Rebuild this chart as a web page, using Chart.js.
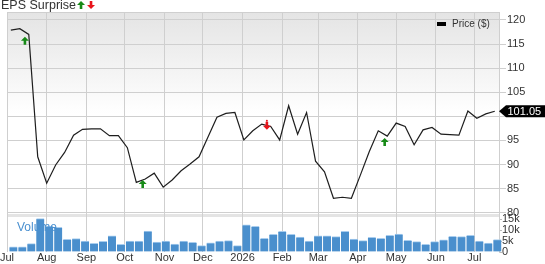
<!DOCTYPE html>
<html>
<head>
<meta charset="utf-8">
<script src="https://cdn.jsdelivr.net/npm/chart.js@4.4.1/dist/chart.umd.min.js"></script>
<style>
  html, body { margin: 0; padding: 0; background: #fff; }
  #wrap { width: 545px; height: 264px; position: relative; }
</style>
</head>
<body>
<div id="wrap"><canvas id="epsChart" width="545" height="264"></canvas></div>
<script>
const FONT = '"Liberation Sans", Arial, Helvetica, sans-serif';

// month ticks along the bottom
const monthStarts = ['2025-07-01', '2025-08-01', '2025-09-01', '2025-10-01', '2025-11-01', '2025-12-01',
    '2026-01-01', '2026-02-01', '2026-03-01', '2026-04-01', '2026-05-01', '2026-06-01', '2026-07-01'];
const monthLabels = ['Jul', 'Aug', 'Sep', 'Oct', 'Nov', 'Dec', '2026', 'Feb', 'Mar', 'Apr', 'May', 'Jun', 'Jul'];
const priceTicks = [80, 85, 90, 95, 100, 105, 110, 115, 120];
const volumeTicks = [0, 5, 10, 15];

// weekly series
const priceWeekStart = '2025-07-04';
const volumeWeekStart = '2025-07-06';
const closePrices = [117.9, 118.2, 117.0, 91.6, 86.1, 89.9, 92.5, 96.1, 97.3, 97.4,
    97.4, 96.0, 96.0, 93.5, 86.3, 87.0, 88.2, 85.3, 86.8, 88.7,
    90.1, 91.6, 95.7, 99.8, 100.6, 100.8, 95.1, 97.0, 98.4, 97.9,
    95.1, 102.2, 96.3, 100.8, 90.7, 88.5, 83.0, 83.2, 83.0, 87.8,
    92.7, 97.0, 95.9, 98.6, 97.9, 94.1, 97.2, 97.7, 96.3, 96.2,
    96.1, 101.1, 99.6, 100.5, 101.05];
const volumeK = [2.4, 2.3, 3.8, 15.2, 11.8, 11.2, 5.8, 6.1, 5.0, 3.9,
    4.8, 7.3, 3.5, 5.0, 5.0, 9.5, 4.5, 5.0, 3.6, 5.0,
    4.4, 2.9, 4.2, 5.0, 5.2, 2.9, 12.3, 11.7, 6.2, 8.0,
    9.4, 8.0, 6.8, 5.0, 7.4, 7.4, 7.0, 9.4, 5.9, 5.2,
    6.7, 6.2, 7.6, 8.2, 5.3, 4.7, 3.5, 4.7, 5.5, 7.1,
    7.0, 7.6, 5.0, 4.1, 5.6];

// earnings surprise markers
const epsDates = ['2025-07-15', '2025-10-15', '2026-01-20', '2026-04-22'];
const epsLevels = [116.5, 86.8, 97.2, 95.5];
const epsDirections = ['up', 'up', 'down', 'up'];

const lastPrice = closePrices[closePrices.length - 1];

const GREEN = '#178a17';
const RED = '#e8141b';
const GRID = '#cfcfcf';

function dayNum(iso) {
    return (Date.parse(iso) - Date.parse(monthStarts[0])) / 86400000;
}

function weekDays(start, count) {
    const first = dayNum(start);
    return Array.from({ length: count }, (_, i) => first + 7 * i);
}

const priceDays = weekDays(priceWeekStart, closePrices.length);
const volumeDays = weekDays(volumeWeekStart, volumeK.length);

function drawArrow(ctx, cx, tipY, dir, color) {
    const s = dir === 'up' ? 1 : -1;
    ctx.fillStyle = color;
    ctx.beginPath();
    ctx.moveTo(cx, tipY);
    ctx.lineTo(cx + 4, tipY + s * 4);
    ctx.lineTo(cx + 1.3, tipY + s * 4);
    ctx.lineTo(cx + 1.3, tipY + s * 8);
    ctx.lineTo(cx - 1.3, tipY + s * 8);
    ctx.lineTo(cx - 1.3, tipY + s * 4);
    ctx.lineTo(cx - 4, tipY + s * 4);
    ctx.closePath();
    ctx.fill();
}

const panelPlugin = {
    id: 'panels',
    beforeDraw(chart) {
        const { ctx, chartArea } = chart;
        const price = chart.scales.price;
        ctx.save();
        const g = ctx.createLinearGradient(0, chartArea.top, 0, price.bottom);
        g.addColorStop(0, '#e4e4e4');
        g.addColorStop(0.5, '#ffffff');
        g.addColorStop(1, '#ffffff');
        ctx.fillStyle = g;
        ctx.fillRect(chartArea.left, chartArea.top, chartArea.width, price.bottom - chartArea.top);
        ctx.fillStyle = '#e4e4e4';
        ctx.fillRect(chartArea.left, price.bottom - 1, chartArea.width, 3);
        ctx.restore();
    },
    beforeDatasetsDraw(chart) {
        const { ctx, chartArea } = chart;
        ctx.save();
        ctx.strokeStyle = GRID;
        ctx.lineWidth = 1;
        ctx.beginPath();
        ctx.moveTo(chartArea.left, chartArea.top + 0.5);
        ctx.lineTo(chartArea.right, chartArea.top + 0.5);
        ctx.stroke();
        ctx.restore();
    },
    afterDraw(chart) {
        const { ctx, chartArea } = chart;
        const x = chart.scales.x;
        const price = chart.scales.price;
        const vol = chart.scales.vol;
        ctx.save();

        // title
        ctx.font = '12.5px ' + FONT;
        ctx.fillStyle = '#333';
        ctx.textAlign = 'left';
        ctx.textBaseline = 'alphabetic';
        ctx.fillText('EPS Surprise', 1, 9);
        const tw = ctx.measureText('EPS Surprise').width;
        drawArrow(ctx, 1 + tw + 5, 1, 'up', GREEN);
        drawArrow(ctx, 1 + tw + 15, 9, 'down', RED);

        // markers on the price line
        epsDates.forEach((d, i) => {
            const px = x.getPixelForValue(dayNum(d));
            const py = price.getPixelForValue(epsLevels[i]);
            if (epsDirections[i] === 'up') {
                drawArrow(ctx, px, py, 'up', GREEN);
            } else {
                drawArrow(ctx, px, py, 'down', RED);
                ctx.beginPath();
                ctx.arc(px, py - 9, 1, 0, Math.PI * 2);
                ctx.fill();
            }
        });

        // legend
        ctx.fillStyle = '#000';
        ctx.fillRect(437, 22, 9, 4);
        ctx.font = '10px ' + FONT;
        ctx.fillStyle = '#333';
        ctx.textBaseline = 'middle';
        ctx.fillText('Price ($)', 452, 24);

        // volume label
        ctx.font = '12px ' + FONT;
        ctx.fillStyle = '#4a90d0';
        ctx.textBaseline = 'alphabetic';
        ctx.fillText('Volume', 17, vol.top + 16);

        // last price badge
        const by = price.getPixelForValue(lastPrice);
        const bx = chartArea.right;
        ctx.fillStyle = '#000';
        ctx.beginPath();
        ctx.moveTo(bx, by);
        ctx.lineTo(bx + 7, by - 6);
        ctx.lineTo(chart.width, by - 6);
        ctx.lineTo(chart.width, by + 6);
        ctx.lineTo(bx + 7, by + 6);
        ctx.closePath();
        ctx.fill();
        ctx.font = '11px ' + FONT;
        ctx.fillStyle = '#fff';
        ctx.textBaseline = 'middle';
        ctx.fillText(lastPrice.toFixed(2), bx + 8.5, by + 0.5);
        ctx.restore();
    }
};

new Chart(document.getElementById('epsChart'), {
    data: {
        datasets: [{
            type: 'line',
            label: 'Price ($)',
            data: closePrices.map((v, i) => ({ x: priceDays[i], y: v })),
            xAxisID: 'x',
            yAxisID: 'price',
            borderColor: '#1e1e1e',
            borderWidth: 1.2,
            pointRadius: 0,
            tension: 0,
            order: 0
        }, {
            type: 'bar',
            label: 'Volume',
            data: volumeK.map((v, i) => ({ x: volumeDays[i], y: v })),
            xAxisID: 'x',
            yAxisID: 'vol',
            backgroundColor: '#4a8fcd',
            borderColor: '#a9cdee',
            borderWidth: { top: 1, left: 0, right: 0, bottom: 0 },
            borderSkipped: false,
            barThickness: 8,
            clip: false,
            order: 1
        }]
    },
    options: {
        responsive: false,
        devicePixelRatio: 1,
        animation: false,
        layout: { padding: { top: 12, left: 7, right: 0, bottom: 0 } },
        plugins: { legend: { display: false }, tooltip: { enabled: false } },
        scales: {
            x: {
                type: 'linear',
                offset: false,
                min: 0,
                max: 384.3,
                afterBuildTicks(scale) {
                    scale.ticks = monthStarts.map(d => ({ value: dayNum(d) }));
                },
                afterFit(scale) { scale.height = 12; },
                ticks: {
                    autoSkip: false,
                    maxRotation: 0,
                    minRotation: 0,
                    padding: -1,
                    color: '#333',
                    font: { family: FONT, size: 11 },
                    callback: (v, i) => monthLabels[i]
                },
                grid: { color: GRID, drawTicks: false, offset: false },
                border: { display: false }
            },
            price: {
                type: 'linear',
                position: 'right',
                stack: 'right',
                stackWeight: 203,
                min: 79.52,
                max: 121.66,
                afterBuildTicks(scale) {
                    scale.ticks = priceTicks.map(v => ({ value: v }));
                },
                afterFit(scale) { scale.width = 46; },
                ticks: {
                    autoSkip: false,
                    padding: 1,
                    color: '#333',
                    font: { family: FONT, size: 11 },
                    // the last-price badge hides the label it would overlap
                    callback: v => (Math.abs(v - lastPrice) < 2.5 ? '' : String(v))
                },
                grid: { color: GRID, tickLength: 7 },
                border: { display: true, color: GRID }
            },
            vol: {
                type: 'linear',
                position: 'right',
                stack: 'right',
                stackWeight: 37,
                min: 0,
                max: 16.82,
                afterBuildTicks(scale) {
                    scale.ticks = volumeTicks.map(v => ({ value: v }));
                },
                afterFit(scale) { scale.width = 46; },
                ticks: {
                    autoSkip: false,
                    padding: 0,
                    color: '#333',
                    font: { family: FONT, size: 11 },
                    callback: v => (v === 0 ? '0' : v + 'k')
                },
                grid: { drawOnChartArea: false, color: '#bbb', tickLength: 3 },
                border: { display: true, color: GRID }
            }
        }
    },
    plugins: [panelPlugin]
});
</script>
</body>
</html>
